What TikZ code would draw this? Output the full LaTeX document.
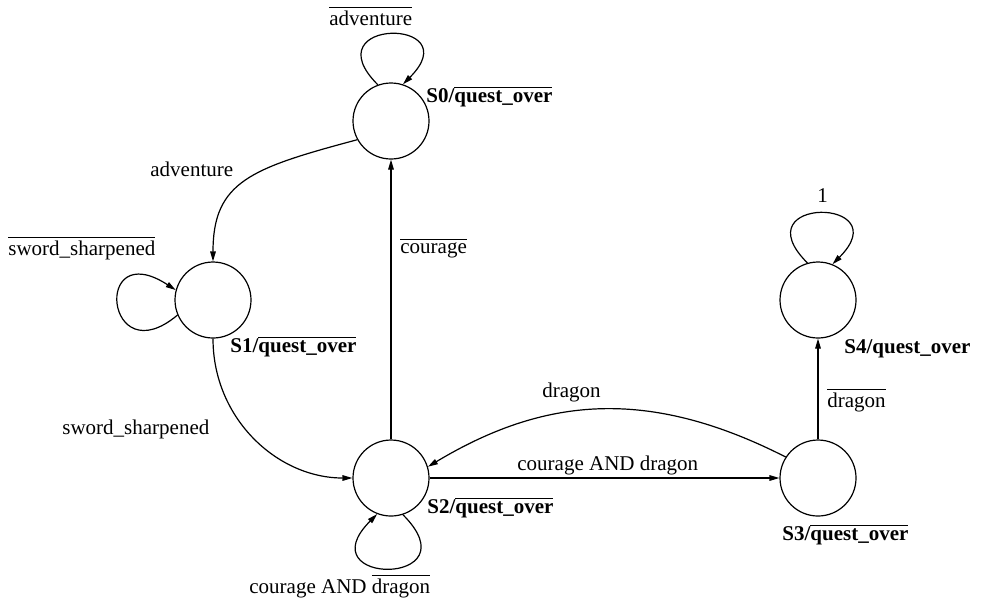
\documentclass[tikz,border=0pt]{standalone}
\usepackage{fontspec}
\setmainfont{Liberation Serif}
\usetikzlibrary{arrows.meta}
% text with a bar over it (negated signals)
\newcommand\ovl[1]{$\overline{\mbox{#1}}$}
\begin{document}
\begin{tikzpicture}[x=0.5pt,y=0.5pt,
  state/.style={circle,draw,line width=0.6pt,minimum size=38pt,inner sep=0pt},
  edge/.style={line width=0.6pt,-{Triangle[length=5pt,width=2.8pt]}},
  lbl/.style={anchor=base west,inner sep=0pt,font=\fontsize{10.5}{12}\selectfont},
  slbl/.style={lbl,font=\fontsize{10.5}{12}\selectfont\bfseries}]
\useasboundingbox (0,0) rectangle (983,-601);

% states
\node[state] (s0) at (391,-121) {};
\node[state] (s1) at (213,-300) {};
\node[state] (s2) at (391,-478) {};
\node[state] (s3) at (818,-478) {};
\node[state] (s4) at (818,-300) {};

% state names / outputs
\node[slbl] (n0) at (426,-102) {S0/\ovl{quest\_over}};
\node[slbl] (n1) at (230,-352) {S1/\ovl{quest\_over}};
\node[slbl] (n2) at (427,-513) {S2/\ovl{quest\_over}};
\node[slbl] (n3) at (782,-540) {S3/\ovl{quest\_over}};
\node[slbl] (n4) at (844,-353) {S4/quest\_over};

% transitions
\draw[edge] (s0.110) to[out=135,in=45,distance=47.5pt] (s0.72);
\draw[edge] (s0.209) to[out=195,in=90,out distance=55pt,in distance=40pt] (s1.north);
\draw[edge] (s1.203) to[out=220,in=147,out distance=47pt,in distance=50pt] (s1.165);
\draw[edge] (s1.south) to[out=-90,in=180,out distance=40pt,in distance=37.5pt] (s2.west);
\draw[edge] (s2.north) -- (s0.south);
\draw[edge] (s2.288) to[out=-45,in=-135,distance=51pt] (s2.249);
\draw[edge] (s2.east) -- (s3.west);
\draw[edge] (s3.147) to[out=153,in=31,out distance=78pt,in distance=67pt] (s2.17);
\draw[edge] (s3.north) -- (s4.south);
\draw[edge] (s4.106) to[out=135,in=45,distance=47.5pt] (s4.68);

% transition conditions
\node[lbl] (c00) at (329,-25) {\ovl{adventure}};
\node[lbl] (c01) at (150,-176) {adventure};
\node[lbl] (c11) at (8,-255) {\ovl{sword\_sharpened}};
\node[lbl] (c12) at (62,-434) {sword\_sharpened};
\node[lbl] (c20) at (400,-253) {\ovl{courage}};
\node[lbl] (c22) at (249,-593) {courage AND \ovl{dragon}};
\node[lbl] (c23) at (517,-470) {courage AND dragon};
\node[lbl] (c32) at (542,-397) {dragon};
\node[lbl] (c34) at (827,-407) {\ovl{dragon}};
\node[lbl] (c44) at (817,-202) {1};
\end{tikzpicture}
\end{document}
